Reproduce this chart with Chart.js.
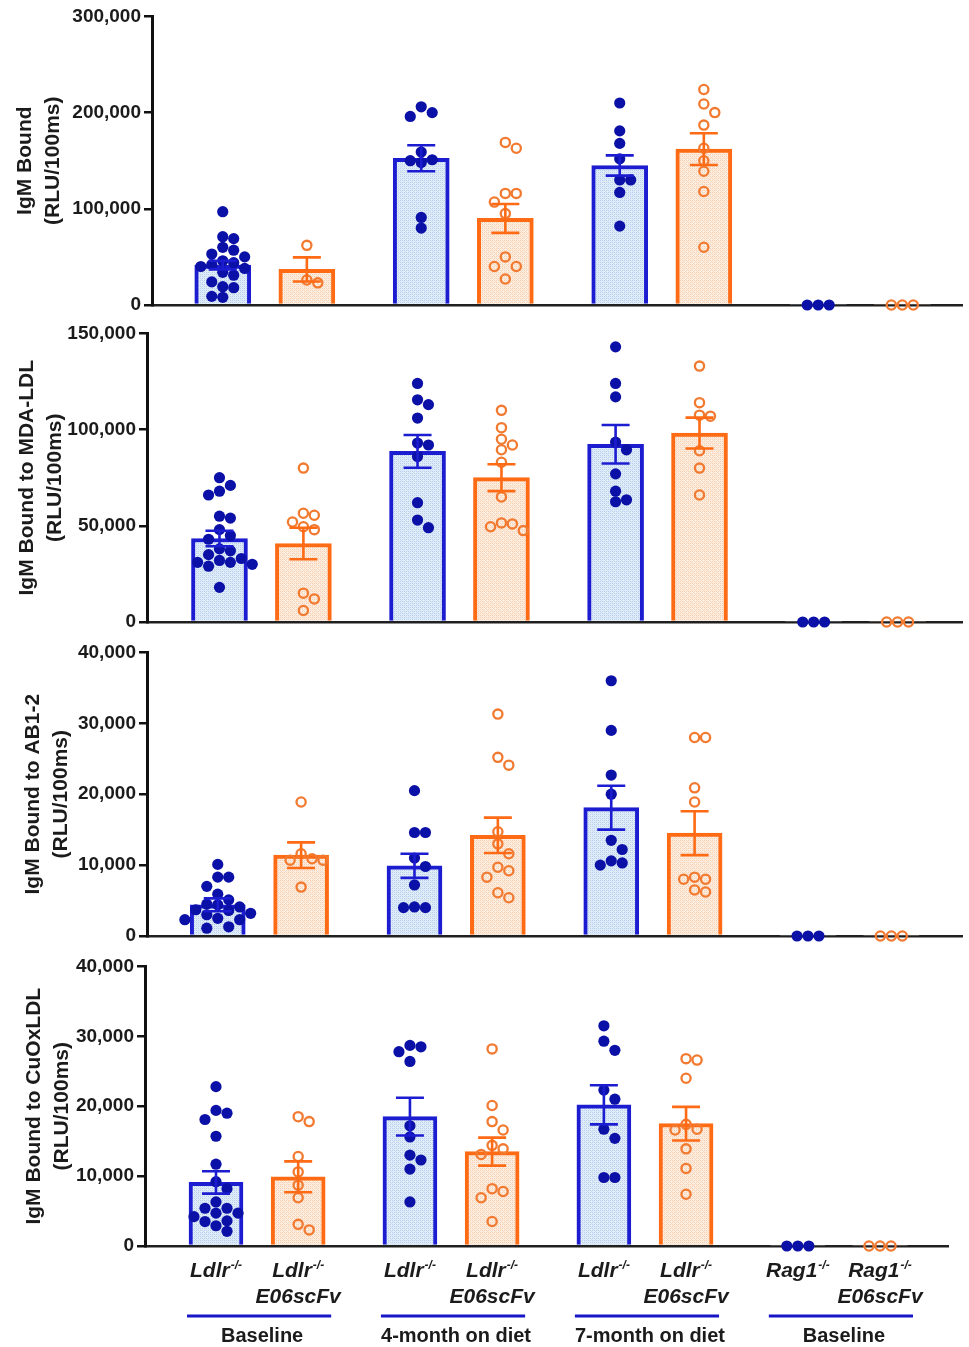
<!DOCTYPE html>
<html>
<head>
<meta charset="utf-8">
<script src="https://cdn.jsdelivr.net/npm/chart.js@4.4.1/dist/chart.umd.min.js"></script>
<style>
  html, body { margin: 0; padding: 0; background: #fff; }
  #wrap { position: relative; width: 969px; height: 1347px; overflow: hidden; }
  #wrap canvas { position: absolute; left: 0; }
</style>
</head>
<body>
<div id="wrap">
  <canvas id="c1"></canvas>
  <canvas id="c2"></canvas>
  <canvas id="c3"></canvas>
  <canvas id="c4"></canvas>
</div>
<script>
// categories
const strains = ["Ldlr", "Ldlr", "Ldlr", "Ldlr", "Ldlr", "Ldlr", "Rag1", "Rag1"]
const genotype = "-/-"
const transgene = ["", "E06scFv", "", "E06scFv", "", "E06scFv", "", "E06scFv"]
const groupLabels = ["Baseline", "4-month on diet", "7-month on diet", "Baseline"]

// IgM bound (total)
const totalMeans = [41500, 37000, 152500, 90000, 145000, 162000, 0, 0]
const totalSem = [4500, 12500, 13500, 15000, 10500, 16500, 0, 0]
const totalPoints = [
  [97000, 71000, 69000, 60000, 57000, 53000, 50000, 46000, 44000, 42000, 40000, 38000, 34000, 31000, 24000, 19000, 18000, 9000, 8000],
  [62000, 26000, 23000],
  [206000, 200000, 196000, 159000, 151000, 150000, 148000, 91000, 80000],
  [169000, 163000, 116000, 116000, 107000, 95000, 50000, 40000, 40000, 27000],
  [210000, 181000, 168000, 152000, 130000, 130000, 117000, 82000],
  [224000, 209000, 200000, 187000, 163000, 150000, 139000, 118000, 60000],
  [0, 0, 0],
  [0, 0, 0],
]

// IgM bound to MDA-LDL
const mdaMeans = [43400, 40800, 88700, 75000, 92400, 98200, 0, 0]
const mdaSem = [4000, 8200, 8500, 7000, 10000, 8000, 0, 0]
const mdaPoints = [
  [75000, 71000, 68000, 66000, 55000, 54000, 48000, 45000, 43000, 38000, 37000, 35000, 33000, 32000, 31000, 31000, 30000, 29000, 18000],
  [80000, 56500, 55500, 52000, 49500, 48000, 15000, 12000, 6000],
  [124000, 115500, 113000, 106000, 93000, 92000, 86000, 62000, 53000, 49000],
  [110000, 101000, 95000, 92000, 89500, 83000, 65000, 51500, 51000, 49500, 47500],
  [143000, 124000, 117000, 93500, 89500, 77000, 68000, 63500, 62500],
  [133000, 114000, 107500, 107000, 89000, 80000, 66000],
  [0, 0, 0],
  [0, 0, 0],
]

// IgM bound to AB1-2
const ab12Means = [4400, 11400, 9900, 14200, 18100, 14500, 0, 0]
const ab12Sem = [900, 1800, 1700, 2500, 3100, 3100, 0, 0]
const ab12Points = [
  [10100, 8300, 8300, 7000, 5900, 5100, 4500, 4400, 4100, 3700, 3600, 3200, 3000, 2500, 2300, 2300, 1300, 1100],
  [18900, 11600, 10900, 10700, 10700, 6900],
  [20500, 14600, 14600, 11000, 9800, 7200, 4100, 4000, 4000],
  [31300, 25200, 24100, 14700, 13000, 11600, 9700, 9200, 8300, 6100, 5400],
  [36000, 29000, 22700, 20000, 13500, 12200, 10600, 10300, 10000],
  [28000, 28000, 20900, 18900, 8300, 8000, 8000, 6500, 6200],
  [0, 0, 0],
  [0, 0, 0],
]

// IgM bound to CuOxLDL
const cuoxMeans = [9100, 9900, 18500, 13500, 20200, 17500, 0, 0]
const cuoxSem = [1600, 2200, 2700, 2000, 2800, 2400, 0, 0]
const cuoxPoints = [
  [22800, 19400, 19000, 18100, 15700, 11700, 9200, 8200, 6300, 5400, 5400, 4700, 4700, 4200, 3600, 3500, 2900, 2100],
  [18500, 17800, 12800, 10600, 8700, 6900, 3100, 2300],
  [28700, 28500, 27800, 26400, 17200, 15600, 13000, 12300, 11000, 6300],
  [28200, 20100, 17800, 16600, 14400, 13900, 13100, 8200, 7800, 6900, 3500],
  [31500, 29300, 28000, 22300, 21000, 16700, 15400, 9800, 9800],
  [26800, 26600, 24000, 17400, 16700, 16600, 13900, 11100, 7400],
  [0, 0, 0],
  [0, 0, 0],
]

const FONT = '"Liberation Sans", Arial, Helvetica, sans-serif'
const TEXT = "#1b1b1b"
const BLUE = "#1c1cd0"
const BLUE_DOT = "#0b10a6"
const ORANGE = "#ff6a14"
const ORANGE_DOT = "#f27a30"
const GROUP_GAP = 0.36

Chart.defaults.font.family = FONT
Chart.defaults.color = TEXT

// x position of each category on a linear axis (pairs, then a gap)
const catPos = strains.map((s, i) => i + Math.floor(i / 2) * GROUP_GAP)

// パネルのレイアウト (pixels on the page)
const panels = [
  { id: "c1", top: 16, bottom: 305, left: 152, right: 965, first: 223, last: 905, max: 300000, step: 100000,
    title: ["IgM Bound", "(RLU/100ms)"], titlePad: 12, means: totalMeans, sem: totalSem, points: totalPoints },
  { id: "c2", top: 333, bottom: 622, left: 147, right: 968, first: 220, last: 903, max: 150000, step: 50000,
    title: ["IgM Bound to MDA-LDL", "(RLU/100ms)"], titlePad: 14, means: mdaMeans, sem: mdaSem, points: mdaPoints },
  { id: "c3", top: 652, bottom: 936, left: 147, right: 965, first: 218, last: 894, max: 40000, step: 10000,
    title: ["IgM Bound to AB1-2", "(RLU/100ms)"], titlePad: 20, means: ab12Means, sem: ab12Sem, points: ab12Points },
  { id: "c4", top: 966, bottom: 1246, left: 145, right: 948, first: 216, last: 880, max: 40000, step: 10000,
    title: ["IgM Bound to CuOxLDL", "(RLU/100ms)"], titlePad: 21, means: cuoxMeans, sem: cuoxSem, points: cuoxPoints },
]

function hatch(base, dot, mid) {
  const c = document.createElement("canvas")
  c.width = c.height = 4
  const g = c.getContext("2d")
  g.fillStyle = base
  g.fillRect(0, 0, 4, 4)
  g.fillStyle = dot
  g.fillRect(0, 0, 1, 1)
  g.fillRect(2, 0, 1, 1)
  g.fillRect(0, 2, 1, 1)
  g.fillRect(2, 2, 1, 1)
  g.fillStyle = mid
  g.fillRect(1, 1, 1, 1)
  g.fillRect(3, 3, 1, 1)
  return g.createPattern(c, "repeat")
}
const blueFill = hatch("#e2edfa", "#b9cfee", "#cfdff4")
const orangeFill = hatch("#fdeee2", "#f6d0b0", "#fadcc6")

// simple beeswarm: spread points that would overlap (px) sideways
function swarm(values, pxPerVal, unit) {
  const STEP = 11
  const MIN_DIST = 10
  const placed = []
  const out = new Array(values.length).fill(0)
  const order = values.map((v, i) => i).sort((a, b) => values[b] - values[a])
  for (const i of order) {
    const y = values[i] * pxPerVal
    for (let k = 0; k < 60; k++) {
      const m = k === 0 ? 0 : (k % 2 ? (k + 1) / 2 : -k / 2)
      const dx = m * STEP
      if (placed.every((q) => Math.hypot(q.dx - dx, q.y - y) >= MIN_DIST)) {
        placed.push({ dx, y })
        out[i] = dx / unit
        break
      }
    }
  }
  return out
}

// mean ± SEM
const errorBars = {
  id: "errorBars",
  afterDatasetsDraw(chart, args, opts) {
    const { ctx, scales: { x, y } } = chart
    const cap = 14
    opts.means.forEach((m, i) => {
      const s = opts.sem[i]
      if (!s) return
      const cx = x.getPixelForValue(catPos[i])
      const yt = y.getPixelForValue(m + s)
      const yb = y.getPixelForValue(m - s)
      ctx.save()
      ctx.strokeStyle = i % 2 ? ORANGE : BLUE
      ctx.lineWidth = 2.6
      ctx.beginPath()
      ctx.moveTo(cx, yt)
      ctx.lineTo(cx, yb)
      ctx.moveTo(cx - cap, yt)
      ctx.lineTo(cx + cap, yt)
      ctx.moveTo(cx - cap, yb)
      ctx.lineTo(cx + cap, yb)
      ctx.stroke()
      ctx.restore()
    })
  },
}

// genotype labels, group lines and group names under the last panel
const groupAxis = {
  id: "groupAxis",
  afterDraw(chart, args, opts) {
    const { ctx, scales: { x }, chartArea } = chart
    const base = chartArea.bottom
    const half = opts.barThickness / 2
    ctx.save()
    ctx.fillStyle = TEXT
    ctx.textBaseline = "alphabetic"
    strains.forEach((name, i) => {
      const cx = x.getPixelForValue(catPos[i])
      ctx.font = "italic bold 21px " + FONT
      const w1 = ctx.measureText(name).width
      ctx.font = "italic bold 12px " + FONT
      const w2 = ctx.measureText(genotype).width
      const start = cx - (w1 + w2 + 1) / 2
      ctx.textAlign = "left"
      ctx.font = "italic bold 21px " + FONT
      ctx.fillText(name, start, base + 31)
      ctx.font = "italic bold 12px " + FONT
      ctx.fillText(genotype, start + w1 + 1, base + 23)
      if (transgene[i]) {
        ctx.font = "italic bold 21px " + FONT
        ctx.textAlign = "center"
        ctx.fillText(transgene[i], cx, base + 57)
      }
    })
    groupLabels.forEach((label, g) => {
      const x0 = x.getPixelForValue(catPos[2 * g]) - half - 2
      const x1 = x.getPixelForValue(catPos[2 * g + 1]) + half + 6
      ctx.strokeStyle = "#1616c6"
      ctx.lineWidth = 3
      ctx.beginPath()
      ctx.moveTo(x0, base + 70)
      ctx.lineTo(x1, base + 70)
      ctx.stroke()
      ctx.font = "bold 20px " + FONT
      ctx.textAlign = "center"
      ctx.fillText(label, (x0 + x1) / 2 + 3, base + 96)
    })
    ctx.restore()
  },
}

panels.forEach((p, n) => {
  const isLast = n === panels.length - 1
  const canvasTop = p.top - 14
  const canvasBottom = isLast ? 1347 : p.bottom + 16
  const canvas = document.getElementById(p.id)
  canvas.width = 969
  canvas.height = canvasBottom - canvasTop
  canvas.style.top = canvasTop + "px"

  const unit = (p.last - p.first) / (catPos[7] - catPos[0])
  const xmin = catPos[0] - (p.first - p.left) / unit
  const xmax = catPos[7] + (p.right - p.last) / unit
  const pxPerVal = (p.bottom - p.top) / p.max
  const barThickness = Math.round(unit * 0.66)

  const bluePts = []
  const orangePts = []
  p.points.forEach((vals, i) => {
    const offs = swarm(vals, pxPerVal, unit)
    vals.forEach((v, k) => {
      const pt = { x: catPos[i] + offs[k], y: v }
      if (i % 2) orangePts.push(pt)
      else bluePts.push(pt)
    })
  })

  new Chart(canvas, {
    type: "bar",
    data: {
      datasets: [
        {
          type: "scatter",
          data: bluePts,
          order: 0,
          clip: false,
          pointRadius: 5.6,
          pointBackgroundColor: BLUE_DOT,
          pointBorderWidth: 0,
        },
        {
          type: "scatter",
          data: orangePts,
          order: 0,
          clip: false,
          pointRadius: 4.6,
          pointBackgroundColor: "rgba(255,255,255,0)",
          pointBorderColor: ORANGE_DOT,
          pointBorderWidth: 2.3,
        },
        {
          type: "bar",
          data: p.means.map((m, i) => ({ x: catPos[i], y: m })),
          order: 1,
          barThickness: barThickness,
          backgroundColor: p.means.map((m, i) => (i % 2 ? orangeFill : blueFill)),
          borderColor: p.means.map((m, i) => (i % 2 ? ORANGE : BLUE)),
          borderWidth: (ctx) => (ctx.raw && ctx.raw.y > 0 ? 4 : 0),
          borderSkipped: "start",
        },
      ],
    },
    options: {
      responsive: false,
      animation: false,
      devicePixelRatio: 1,
      layout: {
        padding: { top: p.top - canvasTop, bottom: canvasBottom - p.bottom, right: 969 - p.right, left: 0 },
      },
      plugins: {
        legend: { display: false },
        tooltip: { enabled: false },
        errorBars: { means: p.means, sem: p.sem },
        groupAxis: { barThickness: barThickness },
      },
      scales: {
        x: {
          type: "linear",
          min: xmin,
          max: xmax,
          offset: false,
          ticks: { display: false },
          grid: { display: false, drawTicks: false },
          border: { display: true, color: "#202020", width: 2.5 },
          afterFit: (s) => { s.height = 0 },
        },
        y: {
          min: 0,
          max: p.max,
          ticks: {
            stepSize: p.step,
            padding: 3,
            color: TEXT,
            font: { size: 19, weight: "bold" },
            callback: (v) => v.toLocaleString("en-US"),
          },
          grid: { display: true, drawOnChartArea: false, drawTicks: true, tickLength: 8, color: "#111", lineWidth: 2.5 },
          border: { display: true, color: "#111", width: 3 },
          title: {
            display: true,
            text: p.title,
            color: TEXT,
            font: { size: 21, weight: "bold", lineHeight: 1.3 },
            padding: { top: p.titlePad, bottom: 0 },
          },
          afterFit: (s) => { s.width = p.left },
        },
      },
    },
    plugins: isLast ? [errorBars, groupAxis] : [errorBars],
  })
})
</script>
</body>
</html>
